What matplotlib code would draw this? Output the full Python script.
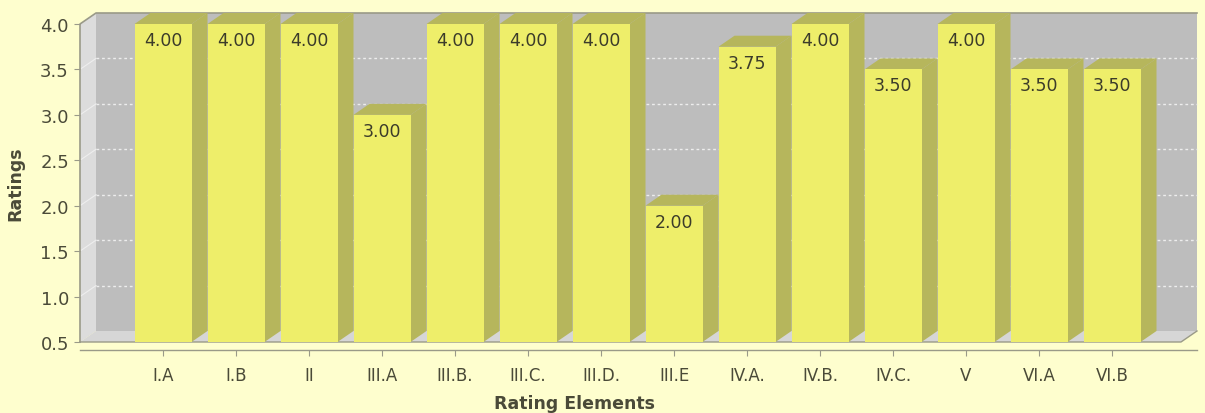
import matplotlib
matplotlib.use("Agg")
import matplotlib.pyplot as plt
from matplotlib.patches import Polygon
from matplotlib.lines import Line2D
import matplotlib.transforms as mtransforms

# Ratings per rating element
categories = ["I.A", "I.B", "II", "III.A", "III.B.", "III.C.", "III.D.", "III.E",
              "IV.A.", "IV.B.", "IV.C.", "V", "VI.A", "VI.B"]
ratings = [4.00, 4.00, 4.00, 3.00, 4.00, 4.00, 4.00, 2.00, 3.75, 4.00, 3.50, 4.00, 3.50, 3.50]
y_ticks = [0.5, 1.0, 1.5, 2.0, 2.5, 3.0, 3.5, 4.0]

W, H = 1205, 414
BG = "#FEFECE"
WALL = "#BDBDBD"
SIDE_WALL = "#DCDCDC"
FLOOR = "#D6D6D6"
EDGE = "#9A9A88"
BAR_FRONT = "#EEEE6A"
BAR_DARK = "#B6B65C"
TEXT = "#4A4A38"

fig = plt.figure(figsize=(W / 100, H / 100), dpi=100, facecolor=BG)

# front face of the plot box, in pixels
left_px, right_px, top_px, bot_px = 80, 1181, 25, 343
ax = fig.add_axes([left_px / W, (H - bot_px) / H,
                   (right_px - left_px) / W, (bot_px - top_px) / H])
ax.set_facecolor("none")

step_px = 73.0
first_px = 163.0
x0 = (left_px - first_px) / step_px
x1 = (right_px - first_px) / step_px
ymin, ymax = 0.5, 4.0
ax.set_xlim(x0, x1)
ax.set_ylim(ymin, ymax)

px_per_val = (bot_px - top_px) / (ymax - ymin)
DX = 16 / step_px          # depth offset in category units
DY = 11 / px_per_val       # depth offset in value units
bar_w = 57 / step_px

def poly(pts, fc, ec="none", lw=0, z=1):
    p = Polygon(pts, closed=True, facecolor=fc, edgecolor=ec, linewidth=lw,
                zorder=z, clip_on=False)
    ax.add_patch(p)

# walls
poly([(x0 + DX, ymin + DY), (x1 + DX, ymin + DY), (x1 + DX, ymax + DY), (x0 + DX, ymax + DY)], WALL, z=0.5)
poly([(x0, ymin), (x0 + DX, ymin + DY), (x0 + DX, ymax + DY), (x0, ymax)], SIDE_WALL, z=0.6)
poly([(x0, ymin), (x1, ymin), (x1 + DX, ymin + DY), (x0 + DX, ymin + DY)], FLOOR, z=0.6)

# outline of the box
ax.add_line(Line2D([x0, x0, x0 + DX, x1 + DX], [ymin, ymax, ymax + DY, ymax + DY],
                   color=EDGE, lw=1.2, zorder=0.9, clip_on=False))
ax.add_line(Line2D([x0, x1, x1 + DX], [ymin, ymin, ymin + DY],
                   color=EDGE, lw=1.0, zorder=0.9, clip_on=False))

# gridlines across the side wall and the back wall
for v in y_ticks[1:-1]:
    ax.add_line(Line2D([x0, x0 + DX], [v, v + DY], color="#EEEEEE", lw=0.8,
                       zorder=0.7, clip_on=False))
    ax.add_line(Line2D([x0 + DX, x1 + DX], [v + DY, v + DY], color="#EDEDED", lw=1.0,
                       ls=(0, (2, 2)), zorder=0.7, clip_on=False))

# 3D bars
for i, v in enumerate(ratings):
    l, r = i - bar_w / 2, i + bar_w / 2
    poly([(r, ymin), (r + DX, ymin + DY), (r + DX, v + DY), (r, v)], BAR_DARK, z=2)
    poly([(l, v), (r, v), (r + DX, v + DY), (l + DX, v + DY)], BAR_DARK, z=2)
    poly([(l, ymin), (r, ymin), (r, v), (l, v)], BAR_FRONT, z=2)
    label_tr = mtransforms.offset_copy(ax.transData, fig=fig, x=0, y=-7, units="dots")
    ax.text(i, v, f"{v:.2f}", transform=label_tr, ha="center", va="top",
            fontsize=12.5, color="#3C3C2A", zorder=3)

# axes
for s in ["top", "right", "left"]:
    ax.spines[s].set_visible(False)
ax.spines["bottom"].set_position(("outward", 6))
ax.spines["bottom"].set_bounds(x0, x1 + DX)
ax.spines["bottom"].set_color(EDGE)
ax.spines["bottom"].set_linewidth(1.0)

ax.set_yticks(y_ticks)
ax.set_yticklabels([f"{t:.1f}" for t in y_ticks])
ax.set_xticks(range(len(categories)))
ax.set_xticklabels(categories)
ax.tick_params(axis="y", direction="out", length=4, width=0.8, color=EDGE,
               labelsize=13, labelcolor=TEXT, pad=4)
ax.tick_params(axis="x", direction="out", length=4, width=0.8, color=EDGE,
               labelsize=12, labelcolor=TEXT, pad=7)

fig.text(15 / W, 1 - 184 / H, "Ratings", rotation=90, ha="center", va="center",
         fontsize=12.5, fontweight="bold", color=TEXT)
fig.text(574 / W, 1 - 404 / H, "Rating Elements", ha="center", va="center",
         fontsize=12.5, fontweight="bold", color=TEXT)

fig.savefig("out.png", dpi=100, facecolor=BG)
